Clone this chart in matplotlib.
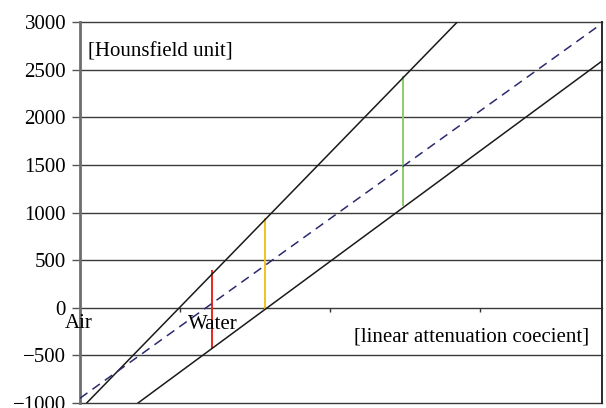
import matplotlib.pyplot as plt
import numpy as np

# x runs along the attenuation axis (arbitrary units), y in Hounsfield units
steep_x = [6.7, 377.3]
steep_hu = [-1000, 3000]
dashed_x = [0, 522]
dashed_hu = [-950, 2985]
lower_x = [58, 522]
lower_hu = [-1000, 2590]

# vertical spans between the two solid lines
span_x = [132.3, 185, 322.7]
span_lo = [-426, 0, 1079]
span_hi = [389, 929, 2419]
span_colors = ["#e8261e", "#f2c21e", "#8ccb6e"]

y_ticks = [-1000, -500, 0, 500, 1000, 1500, 2000, 2500, 3000]
y_labels = ["\u22121000", "\u2212500", "0", "500", "1000", "1500", "2000", "2500", "3000"]
x_ticks = [100, 250, 400]

plt.rcParams["font.family"] = ["Liberation Serif", "DejaVu Serif"]
fs = 15

fig = plt.figure(figsize=(6.06, 4.08), dpi=100)
ax = fig.add_axes([80 / 606, 5 / 408, 522 / 606, 381 / 408])
ax.set_xlim(0, 522)
ax.set_ylim(-1000, 3000)

# horizontal grid
for v in y_ticks:
    ax.axhline(v, color="#3a3a3a", lw=1.0, zorder=1, clip_on=False)

ax.plot(steep_x, steep_hu, color="#1a1a1a", lw=1.1, zorder=3)
ax.plot(lower_x, lower_hu, color="#1a1a1a", lw=1.1, zorder=3)
ax.plot(dashed_x, dashed_hu, color="#2b2a6e", lw=1.1, dashes=(6, 4), zorder=3)

for x, lo, hi, c in zip(span_x, span_lo, span_hi, span_colors):
    ax.plot([x, x], [lo, hi], color=c, lw=1.4, zorder=2)

ax.set_yticks(y_ticks)
ax.set_yticklabels(y_labels, fontsize=fs)
ax.tick_params(axis="y", direction="out", length=6, width=1, color="#555555", pad=4)

ax.spines["left"].set_color("#6e6e6e")
ax.spines["left"].set_linewidth(2)
ax.spines["right"].set_color("#2a2a2a")
ax.spines["right"].set_linewidth(1.4)
ax.spines["top"].set_visible(False)
ax.spines["bottom"].set_position(("data", 0))
ax.spines["bottom"].set_visible(False)
ax.set_xticks(x_ticks)
ax.set_xticklabels([])
ax.tick_params(axis="x", direction="out", length=3, width=1, color="#333333")

ax.text(8, 2685, "[Hounsfield unit]", fontsize=fs, va="center", ha="left")
ax.text(-15, -165, "Air", fontsize=fs, va="center", ha="left", clip_on=False)
ax.text(108, -180, "Water", fontsize=fs, va="center", ha="left")
ax.text(509, -302, "[linear attenuation coecient]", fontsize=fs, va="center", ha="right")

fig.savefig("out.png", dpi=100)
